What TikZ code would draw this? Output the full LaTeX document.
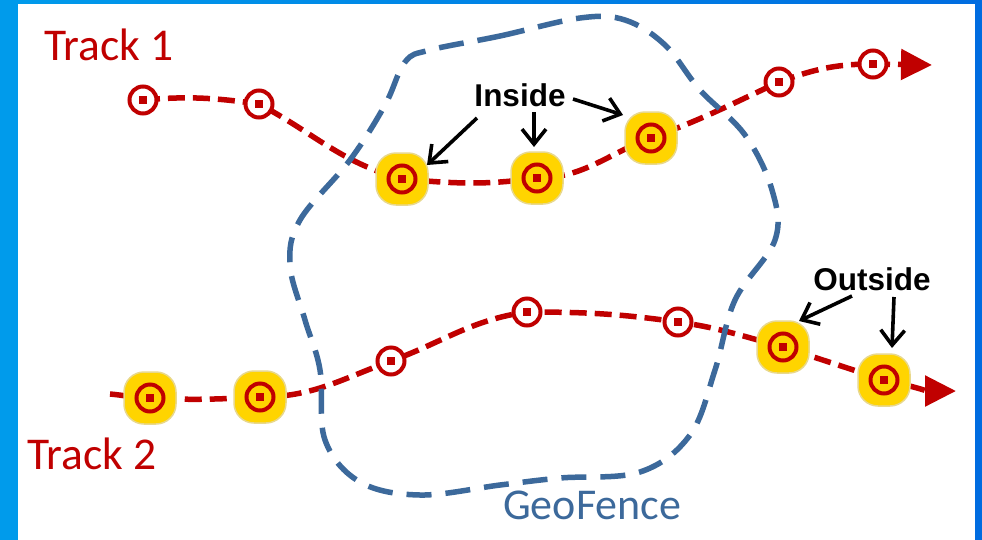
\documentclass[tikz,border=0pt]{standalone}
\usepackage{fontspec}
\setmainfont{Carlito}
\newfontfamily\lblfont{Liberation Sans}
\usetikzlibrary{arrows.meta,backgrounds}
\definecolor{trackred}{RGB}{192,0,0}
\definecolor{fenceblue}{RGB}{60,105,155}
\definecolor{goldfill}{RGB}{255,212,0}
\definecolor{goldedge}{RGB}{232,216,140}
\definecolor{skyL}{RGB}{0,155,235}
\definecolor{skyR}{RGB}{0,108,224}
\tikzset{
  hit/.style={draw=goldedge,line width=1.5pt,fill=goldfill,rounded corners=20pt,minimum size=52pt,inner sep=0pt},
  plain/.style={draw=trackred,line width=4pt,fill=white,circle,minimum size=27pt,inner sep=0pt},
  ring/.style={draw=trackred,line width=4pt,circle,minimum size=27pt,inner sep=0pt},
  dot/.style={fill=trackred,minimum size=8pt,inner sep=0pt},
  trackline/.style={draw=trackred,line width=5.5pt,dash pattern=on 17pt off 8pt},
  fenceline/.style={draw=fenceblue,line width=5.5pt,dash pattern=on 25pt off 14pt},
  pointer/.style={draw=black,line width=3.6pt,-{Straight Barb[length=15pt,width=24pt,line width=3.6pt]}},
  tracklabel/.style={text=trackred,font=\fontsize{45.5}{46}\selectfont,inner sep=0pt},
  fencelabel/.style={text=fenceblue,font=\fontsize{44}{44}\selectfont,inner sep=0pt},
  calllabel/.style={text=black,font=\lblfont\bfseries\fontsize{31.5}{32}\selectfont,inner sep=0pt},
}
\newcommand{\hitpt}[2]{\node[hit] (#1) at (#2) {};\node[ring] (#1r) at (#1) {};\node[dot] (#1d) at (#1) {};}
\newcommand{\plainpt}[2]{\node[plain] (#1) at (#2) {};\node[dot] (#1d) at (#1) {};}
\begin{document}
\begin{tikzpicture}[x=1pt,y=-1pt]
\useasboundingbox (0,0) rectangle (982,539);
% markers
\plainpt{a1}{143,100}
\plainpt{a2}{259,104}
\hitpt{a3}{402,179}
\hitpt{a4}{537,178}
\hitpt{a5}{651,138}
\plainpt{a6}{779,82}
\plainpt{a7}{873,64}
\coordinate (aend) at (932,65);
\coordinate (bstart) at (110,394);
\hitpt{b1}{150,398}
\hitpt{b2}{260,397}
\plainpt{b3}{391,361}
\plainpt{b4}{527,312}
\plainpt{b5}{678,322}
\hitpt{b6}{783,347}
\hitpt{b7}{884,380}
\coordinate (bend) at (956,391);
\begin{scope}[on background layer]
  \shade[left color=skyL,right color=skyR] (0,0) rectangle (982,545);
  \fill[white] (18,4) rectangle (975,545);
  \draw[trackline] (a1.center) to[out=5,in=172] (a2.center)
     to[out=-28,in=165] (a3.center) to[out=-5,in=188] (a4.center)
     to[out=0,in=200] (a5.center) to[out=20,in=205] (a6.center)
     to[out=20,in=180] (a7.center);
  \draw[trackline,-{Triangle[length=31pt,width=30pt]}] (a7.center) -- (aend);
  \draw[trackline] (bstart) to[out=-5,in=180] (b1.center)
     to[out=-3,in=183] (b2.center)
     to[out=0,in=200] (b3.center) to[out=20,in=188] (b4.center)
     to[out=0,in=172] (b5.center) to[out=-8,in=165] (b6.center)
     -- (b7.center);
  \draw[trackline,-{Triangle[length=31pt,width=30pt]}] (b7.center) to[out=-12,in=180] (bend);
  \draw[fenceline] plot[smooth cycle,tension=0.6] coordinates {
     (430,50) (500,36) (580,18) (625,20) (665,45) (700,90) (745,135) (772,190)
     (775,240) (735,300) (715,370) (690,435) (640,472) (560,478) (500,485)
     (420,495) (360,482) (325,440) (320,370) (305,320) (290,265) (300,220)
     (350,160) (385,105) (405,62)};
\end{scope}
% labels
\node[tracklabel,anchor=base west] (t1) at (44,60) {Track 1};
\node[tracklabel,anchor=base west] (t2) at (27,469) {Track 2};
\node[fencelabel,anchor=base west] (gf) at (503,519) {GeoFence};
\node[calllabel] (ins) at (520,95) {Inside};
\node[calllabel] (out) at (872,279) {Outside};
\coordinate (i1) at (477,118);
\coordinate (i2) at (534,112);
\coordinate (i3) at (573,99);
\coordinate (o1) at (852,296);
\coordinate (o2) at (894,297);
\draw[pointer] (i1) -- ([shift={(25,-14)}]a3.center);
\draw[pointer] (i2) -- ([shift={(-3,-31)}]a4.center);
\draw[pointer] (i3) -- ([shift={(-28,-23)}]a5.center);
\draw[pointer] (o1) -- ([shift={(16,-26)}]b6.center);
\draw[pointer] (o2) -- ([shift={(8,-32)}]b7.center);
\end{tikzpicture}
\end{document}
